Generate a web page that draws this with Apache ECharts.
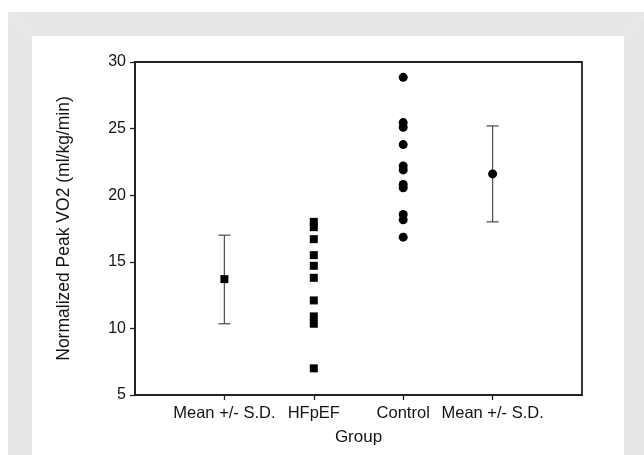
<!DOCTYPE html>
<html><head><meta charset="utf-8">
<script src="https://cdn.jsdelivr.net/npm/echarts@6/dist/echarts.min.js"></script>
<style>html,body{margin:0;padding:0;background:#fff}#c{width:644px;height:455px}</style>
</head><body><div id="c"></div>
<script>
// ---- data ----
const categories = ['Mean +/- S.D.', 'HFpEF', 'Control', 'Mean +/- S.D.'];
const categoryPositions = [1, 2, 3, 4];
const hfpefValues = [18.0, 17.6, 16.7, 15.5, 14.7, 13.8, 12.1, 10.9, 10.35, 7.0];
const controlValues = [28.85, 25.45, 25.1, 23.8, 22.2, 21.9, 20.8, 20.55, 18.55, 18.15, 16.85];
const hfpefMean = 13.7, hfpefLow = 10.35, hfpefHigh = 17.0;
const controlMean = 21.6, controlLow = 18.0, controlHigh = 25.2;
const yMin = 5, yMax = 30, yStep = 5;
const yTitle = 'Normalized Peak VO2 (ml/kg/min)';
const xTitle = 'Group';

const FONT = '"Liberation Sans", Arial, Helvetica, sans-serif';
const TXT = '#141414';
const AX = '#222';
const chart = echarts.init(document.getElementById('c'), null, {renderer: 'canvas'});

const errData = [
  [categoryPositions[0], hfpefLow, hfpefHigh],
  [categoryPositions[3], controlLow, controlHigh]
];
const markerStyle = {color: '#000', opacity: 1};

chart.setOption({
  animation: false,
  backgroundColor: '#fff',
  graphic: [
    {type: 'rect', z: -100, silent: true, shape: {x: 8, y: 12, width: 640, height: 443}, style: {fill: '#e6e7e8'}},
    {type: 'rect', z: -99, silent: true, shape: {x: 32, y: 36, width: 592, height: 419}, style: {fill: '#ffffff'}},
    {type: 'line', z: -98, silent: true, shape: {x1: 8, y1: 12, x2: 32, y2: 36}, style: {stroke: '#efeff0', lineWidth: 1}},
    {type: 'line', z: -98, silent: true, shape: {x1: 648, y1: 12, x2: 624, y2: 36}, style: {stroke: '#efeff0', lineWidth: 1}}
  ],
  grid: {left: 135, top: 62, right: 62, bottom: 60, show: true, borderColor: AX, borderWidth: 1.8, backgroundColor: '#fff'},
  xAxis: {
    type: 'value', min: 0, max: 5, interval: 1,
    name: xTitle, nameLocation: 'middle', nameGap: 34,
    nameTextStyle: {fontFamily: FONT, fontSize: 17, color: TXT},
    axisLine: {show: true, lineStyle: {color: AX, width: 1.8}},
    axisTick: {show: true, inside: false, length: 5, lineStyle: {color: AX, width: 1.3}, customValues: categoryPositions},
    axisLabel: {fontFamily: FONT, fontSize: 16.5, color: TXT, margin: 10, customValues: categoryPositions,
      formatter: v => { const i = categoryPositions.indexOf(Math.round(v)); return i >= 0 ? categories[i] : ''; }},
    splitLine: {show: false}
  },
  yAxis: {
    type: 'value', min: yMin, max: yMax, interval: yStep,
    name: yTitle, nameLocation: 'middle', nameGap: 62,
    nameTextStyle: {fontFamily: FONT, fontSize: 17.5, color: TXT},
    axisLine: {show: true, lineStyle: {color: AX, width: 1.8}},
    axisTick: {show: true, inside: false, length: 5, lineStyle: {color: AX, width: 1.3}},
    axisLabel: {fontFamily: FONT, fontSize: 16, color: TXT, margin: 9},
    splitLine: {show: false}
  },
  series: [
    {
      type: 'custom', name: 'sd', z: 2,
      renderItem: (params, api) => {
        const x = api.value(0);
        const lo = api.coord([x, api.value(1)]);
        const hi = api.coord([x, api.value(2)]);
        const hw = 6;
        const st = {stroke: '#555', lineWidth: 1.3};
        return {type: 'group', children: [
          {type: 'line', shape: {x1: lo[0], y1: lo[1], x2: hi[0], y2: hi[1]}, style: st},
          {type: 'line', shape: {x1: lo[0]-hw, y1: lo[1], x2: lo[0]+hw, y2: lo[1]}, style: st},
          {type: 'line', shape: {x1: hi[0]-hw, y1: hi[1], x2: hi[0]+hw, y2: hi[1]}, style: st}
        ]};
      },
      data: errData
    },
    {type: 'scatter', z: 3, symbol: 'rect', symbolSize: 8, itemStyle: markerStyle,
      data: [[categoryPositions[0], hfpefMean]]},
    {type: 'scatter', z: 3, symbol: 'rect', symbolSize: 8, itemStyle: markerStyle,
      data: hfpefValues.map(v => [categoryPositions[1], v])},
    {type: 'scatter', z: 3, symbol: 'circle', symbolSize: 9, itemStyle: markerStyle,
      data: controlValues.map(v => [categoryPositions[2], v])},
    {type: 'scatter', z: 3, symbol: 'circle', symbolSize: 9, itemStyle: markerStyle,
      data: [[categoryPositions[3], controlMean]]}
  ]
});
</script>
</body></html>
